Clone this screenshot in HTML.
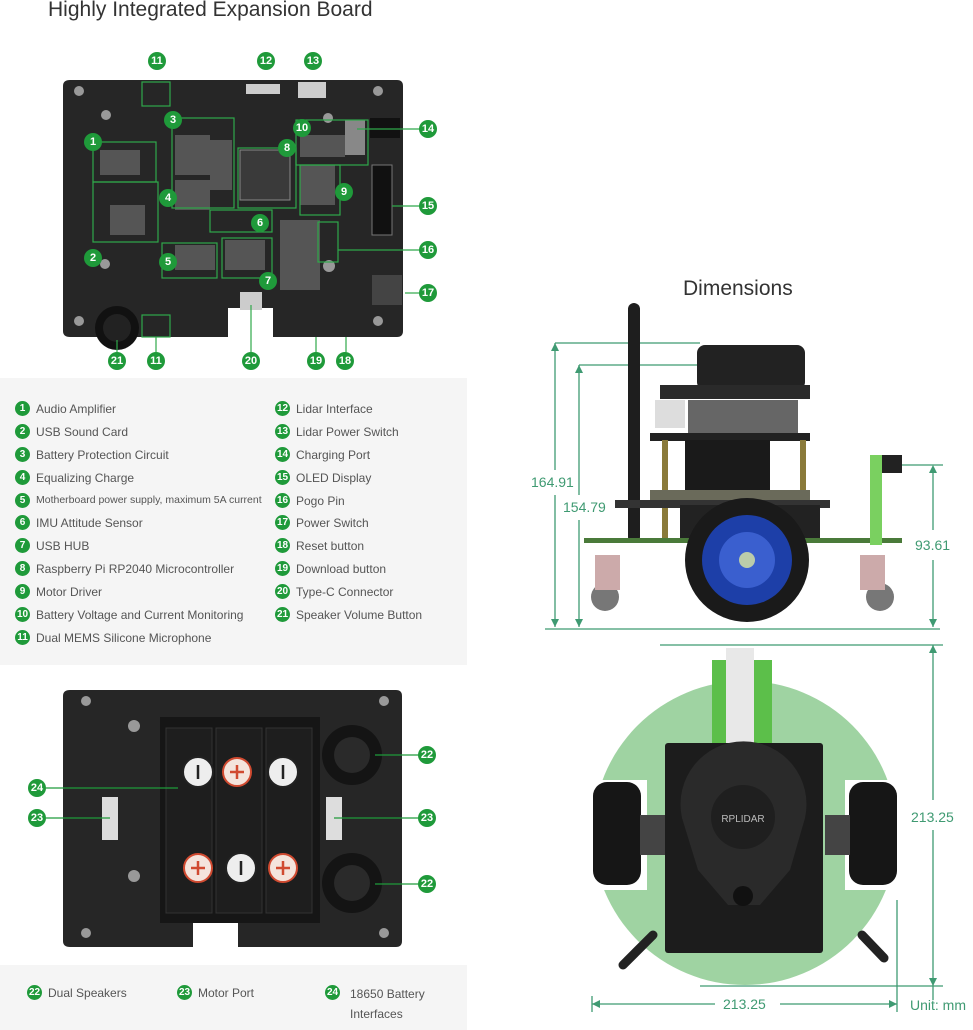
<!DOCTYPE html>
<html><head><meta charset="utf-8"><style>
body{margin:0;background:#fff;width:973px;height:1030px;overflow:hidden;position:relative;font-family:"Liberation Sans",sans-serif;color:#444}
.a{position:absolute}
.lg{position:absolute;font-size:12px;color:#555;white-space:nowrap}
.n{position:absolute;width:15px;height:15px;border-radius:50%;background:#1f9a3a;color:#fff;font-size:10px;font-weight:bold;text-align:center;line-height:15px}
.b{width:18px;height:18px;line-height:18px;font-size:11px}
.dim{position:absolute;color:#3f9a72;font-size:14px}
</style></head><body>
<div class="a" style="left:48px;top:-2px;font-size:21px;color:#333">Highly Integrated Expansion Board</div>
<div class="a" style="left:683px;top:277px;font-size:21px;color:#333">Dimensions</div>

<svg class="a" style="left:0;top:0" width="973" height="1030">
<!-- top board -->
<path d="M70 80 H397 Q403 80 403 86 V331 Q403 337 397 337 H273 V308 H228 V337 H70 Q63 337 63 331 V86 Q63 80 70 80Z" fill="#262626"/>
<g fill="#555">
<rect x="100" y="150" width="40" height="25"/><rect x="110" y="205" width="35" height="30"/><rect x="175" y="135" width="35" height="40"/><rect x="210" y="140" width="22" height="50"/>
<rect x="240" y="150" width="50" height="50" fill="#3a3a3a" stroke="#888"/><rect x="175" y="180" width="35" height="30"/><rect x="300" y="165" width="35" height="40"/>
<rect x="175" y="245" width="40" height="25"/><rect x="225" y="240" width="40" height="30"/><rect x="280" y="220" width="40" height="70"/><rect x="300" y="135" width="45" height="22"/>
<rect x="345" y="120" width="20" height="35" fill="#888"/><rect x="372" y="165" width="20" height="70" fill="#111" stroke="#777"/>
<rect x="370" y="118" width="30" height="20" fill="#111"/><rect x="298" y="82" width="28" height="16" fill="#ccc"/><rect x="246" y="84" width="34" height="10" fill="#ccc"/>
<rect x="240" y="292" width="22" height="18" fill="#ccc"/><rect x="372" y="275" width="30" height="30" fill="#444"/>
</g>
<circle cx="117" cy="328" r="22" fill="#111"/><circle cx="117" cy="328" r="14" fill="#222"/>
<g fill="#999"><circle cx="79" cy="91" r="5"/><circle cx="79" cy="321" r="5"/><circle cx="378" cy="91" r="5"/><circle cx="378" cy="321" r="5"/><circle cx="106" cy="115" r="5"/><circle cx="105" cy="264" r="5"/><circle cx="329" cy="266" r="6"/><circle cx="328" cy="118" r="5"/></g>
<!-- green outline boxes -->
<g fill="none" stroke="#2fa84a" stroke-width="1.2">
<rect x="142" y="82" width="28" height="24"/><rect x="93" y="142" width="63" height="40"/><rect x="93" y="182" width="65" height="60"/><rect x="172" y="118" width="62" height="90"/>
<rect x="238" y="148" width="58" height="60"/><rect x="210" y="210" width="62" height="22"/><rect x="222" y="238" width="50" height="40"/><rect x="296" y="120" width="72" height="45"/><rect x="300" y="165" width="40" height="50"/>
<rect x="162" y="243" width="55" height="35"/><rect x="318" y="222" width="20" height="40"/><rect x="142" y="315" width="28" height="22"/>
<line x1="357" y1="129" x2="420" y2="129"/><line x1="392" y1="206" x2="420" y2="206"/><line x1="338" y1="250" x2="420" y2="250"/><line x1="405" y1="293" x2="420" y2="293"/>
<line x1="316" y1="337" x2="316" y2="352"/><line x1="346" y1="337" x2="346" y2="352"/><line x1="251" y1="305" x2="251" y2="352"/><line x1="117" y1="340" x2="117" y2="352"/><line x1="156" y1="337" x2="156" y2="352"/>
</g>
<!-- side panel -->
<rect x="0" y="378" width="467" height="287" fill="#f5f5f5"/>
<rect x="0" y="965" width="467" height="65" fill="#f5f5f5"/>
<!-- bottom board -->
<path d="M70 690 H396 Q402 690 402 696 V941 Q402 947 396 947 H238 V917 H193 V947 H70 Q63 947 63 941 V696 Q63 690 70 690Z" fill="#262626"/>
<g fill="#999"><circle cx="86" cy="701" r="5"/><circle cx="384" cy="701" r="5"/><circle cx="86" cy="933" r="5"/><circle cx="384" cy="933" r="5"/><circle cx="134" cy="726" r="6"/><circle cx="134" cy="876" r="6"/></g>
<rect x="160" y="717" width="160" height="206" fill="#161616"/>
<g fill="#1e1e1e" stroke="#333"><rect x="166" y="728" width="46" height="185"/><rect x="216" y="728" width="46" height="185"/><rect x="266" y="728" width="46" height="185"/></g>
<g stroke="#222" stroke-width="2" fill="#eee"><circle cx="198" cy="772" r="15"/><circle cx="283" cy="772" r="15"/><circle cx="241" cy="868" r="15"/></g>
<g fill="#f4e4dc" stroke="#d04a30" stroke-width="2"><circle cx="237" cy="772" r="14"/><circle cx="198" cy="868" r="14"/><circle cx="283" cy="868" r="14"/></g>
<g stroke="#222" stroke-width="2.5"><line x1="198" y1="765" x2="198" y2="779"/><line x1="283" y1="765" x2="283" y2="779"/><line x1="241" y1="861" x2="241" y2="875"/></g>
<g stroke="#d04a30" stroke-width="2.5"><path d="M230 772h14M237 765v14M191 868h14M198 861v14M276 868h14M283 861v14"/></g>
<circle cx="352" cy="755" r="30" fill="#141414"/><circle cx="352" cy="755" r="18" fill="#2a2a2a"/><circle cx="352" cy="883" r="30" fill="#141414"/><circle cx="352" cy="883" r="18" fill="#2a2a2a"/>
<rect x="102" y="797" width="16" height="43" fill="#ddd"/><rect x="326" y="797" width="16" height="43" fill="#ddd"/>
<g stroke="#1f9a3a" stroke-width="1.2"><line x1="46" y1="818" x2="110" y2="818"/><line x1="334" y1="818" x2="420" y2="818"/><line x1="46" y1="788" x2="178" y2="788"/><line x1="375" y1="755" x2="420" y2="755"/><line x1="375" y1="884" x2="420" y2="884"/></g>

<!-- side view robot -->
<g stroke="#3f9a72" stroke-width="1.3" fill="#3f9a72">
<line x1="555" y1="343" x2="700" y2="343"/><line x1="579" y1="365" x2="697" y2="365"/><line x1="545" y1="629" x2="940" y2="629"/><line x1="900" y1="465" x2="943" y2="465"/>
<line x1="555" y1="343" x2="555" y2="470"/><line x1="555" y1="495" x2="555" y2="627"/>
<line x1="579" y1="365" x2="579" y2="495"/><line x1="579" y1="520" x2="579" y2="627"/>
<line x1="933" y1="467" x2="933" y2="530"/><line x1="933" y1="560" x2="933" y2="627"/>
<path d="M555 343l-4 8h8z M555 627l-4-8h8z M579 365l-4 8h8z M579 627l-4-8h8z M933 465l-4 8h8z M933 627l-4-8h8z" stroke="none"/>
<line x1="933" y1="645" x2="933" y2="800"/><line x1="933" y1="830" x2="933" y2="1000"/><line x1="660" y1="645" x2="943" y2="645"/><line x1="700" y1="986" x2="943" y2="986"/>
<line x1="592" y1="1004" x2="715" y2="1004"/><line x1="780" y1="1004" x2="897" y2="1004"/><line x1="592" y1="996" x2="592" y2="1012"/><line x1="897" y1="900" x2="897" y2="1012"/>
<path d="M933 645l-4 8h8z M933 986l-4-8h8z M592 1004l8-4v8z M897 1004l-8-4v8z" stroke="none"/>
</g>
<rect x="628" y="303" width="12" height="240" rx="6" fill="#1e1e1e"/>
<rect x="697" y="345" width="108" height="45" rx="8" fill="#222"/>
<rect x="660" y="385" width="150" height="14" fill="#2a2a2a"/>
<rect x="655" y="400" width="30" height="28" fill="#ddd"/>
<rect x="688" y="400" width="110" height="35" fill="#666"/>
<rect x="650" y="433" width="160" height="8" fill="#222"/>
<rect x="685" y="440" width="85" height="55" fill="#1a1a1a"/>
<rect x="662" y="440" width="6" height="100" fill="#8a7a3a"/><rect x="800" y="440" width="6" height="100" fill="#8a7a3a"/>
<rect x="650" y="490" width="160" height="12" fill="#6a6a5a"/>
<rect x="615" y="500" width="215" height="8" fill="#333"/>
<rect x="680" y="505" width="140" height="35" fill="#222"/>
<rect x="584" y="538" width="318" height="5" fill="#4a7a3a"/>
<rect x="870" y="455" width="12" height="90" fill="#7ad060"/><rect x="882" y="455" width="20" height="18" fill="#222"/>
<circle cx="605" cy="597" r="14" fill="#777"/><circle cx="880" cy="597" r="14" fill="#777"/>
<rect x="595" y="555" width="25" height="35" fill="#caa" /><rect x="860" y="555" width="25" height="35" fill="#caa"/>
<circle cx="747" cy="560" r="62" fill="#1a1a1a"/><circle cx="747" cy="560" r="45" fill="#1d3fa8"/><circle cx="747" cy="560" r="28" fill="#3a5fcf"/><circle cx="747" cy="560" r="8" fill="#bca"/>

<!-- top view -->
<circle cx="745" cy="833" r="152" fill="#9fd3a2"/>
<rect x="585" y="780" width="62" height="110" fill="#fff"/><rect x="845" y="780" width="62" height="110" fill="#fff"/>
<rect x="593" y="782" width="48" height="103" rx="14" fill="#161616"/><rect x="849" y="782" width="48" height="103" rx="14" fill="#161616"/>
<rect x="640" y="815" width="25" height="40" fill="#444"/><rect x="825" y="815" width="25" height="40" fill="#444"/>
<rect x="712" y="660" width="60" height="85" fill="#5cbf4a"/>
<rect x="726" y="648" width="28" height="100" fill="#e8e8e8"/>
<rect x="665" y="743" width="158" height="210" rx="3" fill="#1c1c1c"/>
<path d="M682 818 A63 63 0 1 1 805 818 L790 870 L760 905 H728 L698 870Z" fill="#2a2a2a"/>
<circle cx="743" cy="817" r="32" fill="#1f1f1f"/>
<text x="743" y="822" text-anchor="middle" font-family="Liberation Sans" font-size="10" fill="#bbb">RPLIDAR</text>
<circle cx="743" cy="896" r="10" fill="#111"/>
<g stroke="#222" stroke-width="9" stroke-linecap="round"><line x1="623" y1="965" x2="653" y2="935"/><line x1="862" y1="935" x2="884" y2="958"/></g>
</svg>

<div class="dim" style="left:531px;top:474px">164.91</div>
<div class="dim" style="left:563px;top:499px">154.79</div>
<div class="dim" style="left:915px;top:537px">93.61</div>
<div class="dim" style="left:911px;top:809px">213.25</div>
<div class="dim" style="left:723px;top:996px">213.25</div>
<div class="dim" style="left:910px;top:997px">Unit: mm</div>

<!-- numbers top board -->
<div class="n b" style="left:148px;top:52px">11</div><div class="n b" style="left:257px;top:52px">12</div><div class="n b" style="left:304px;top:52px">13</div>
<div class="n b" style="left:419px;top:120px">14</div><div class="n b" style="left:419px;top:197px">15</div><div class="n b" style="left:419px;top:241px">16</div><div class="n b" style="left:419px;top:284px">17</div>
<div class="n b" style="left:336px;top:352px">18</div><div class="n b" style="left:307px;top:352px">19</div><div class="n b" style="left:242px;top:352px">20</div><div class="n b" style="left:108px;top:352px">21</div><div class="n b" style="left:147px;top:352px">11</div>
<div class="n b" style="left:84px;top:133px">1</div><div class="n b" style="left:84px;top:249px">2</div><div class="n b" style="left:164px;top:111px">3</div><div class="n b" style="left:159px;top:189px">4</div><div class="n b" style="left:159px;top:253px">5</div>
<div class="n b" style="left:251px;top:214px">6</div><div class="n b" style="left:259px;top:272px">7</div><div class="n b" style="left:278px;top:139px">8</div><div class="n b" style="left:335px;top:183px">9</div><div class="n b" style="left:293px;top:119px">10</div>
<div class="n b" style="left:418px;top:746px">22</div><div class="n b" style="left:418px;top:875px">22</div><div class="n b" style="left:28px;top:809px">23</div><div class="n b" style="left:418px;top:809px">23</div><div class="n b" style="left:28px;top:779px">24</div>

<!-- legend -->
<div class="n" style="left:15px;top:401px">1</div><div class="lg" style="left:36px;top:402px">Audio Amplifier</div>
<div class="n" style="left:15px;top:424px">2</div><div class="lg" style="left:36px;top:425px">USB Sound Card</div>
<div class="n" style="left:15px;top:447px">3</div><div class="lg" style="left:36px;top:448px">Battery Protection Circuit</div>
<div class="n" style="left:15px;top:470px">4</div><div class="lg" style="left:36px;top:471px">Equalizing Charge</div>
<div class="n" style="left:15px;top:493px">5</div><div class="lg" style="left:36px;top:494px;font-size:10.5px">Motherboard power supply, maximum 5A current</div>
<div class="n" style="left:15px;top:515px">6</div><div class="lg" style="left:36px;top:516px">IMU Attitude Sensor</div>
<div class="n" style="left:15px;top:538px">7</div><div class="lg" style="left:36px;top:539px">USB HUB</div>
<div class="n" style="left:15px;top:561px">8</div><div class="lg" style="left:36px;top:562px">Raspberry Pi RP2040 Microcontroller</div>
<div class="n" style="left:15px;top:584px">9</div><div class="lg" style="left:36px;top:585px">Motor Driver</div>
<div class="n" style="left:15px;top:607px">10</div><div class="lg" style="left:36px;top:608px">Battery Voltage and Current Monitoring</div>
<div class="n" style="left:15px;top:630px">11</div><div class="lg" style="left:36px;top:631px">Dual MEMS Silicone Microphone</div>
<div class="n" style="left:275px;top:401px">12</div><div class="lg" style="left:296px;top:402px">Lidar Interface</div>
<div class="n" style="left:275px;top:424px">13</div><div class="lg" style="left:296px;top:425px">Lidar Power Switch</div>
<div class="n" style="left:275px;top:447px">14</div><div class="lg" style="left:296px;top:448px">Charging Port</div>
<div class="n" style="left:275px;top:470px">15</div><div class="lg" style="left:296px;top:471px">OLED Display</div>
<div class="n" style="left:275px;top:493px">16</div><div class="lg" style="left:296px;top:494px">Pogo Pin</div>
<div class="n" style="left:275px;top:515px">17</div><div class="lg" style="left:296px;top:516px">Power Switch</div>
<div class="n" style="left:275px;top:538px">18</div><div class="lg" style="left:296px;top:539px">Reset button</div>
<div class="n" style="left:275px;top:561px">19</div><div class="lg" style="left:296px;top:562px">Download button</div>
<div class="n" style="left:275px;top:584px">20</div><div class="lg" style="left:296px;top:585px">Type-C Connector</div>
<div class="n" style="left:275px;top:607px">21</div><div class="lg" style="left:296px;top:608px">Speaker Volume Button</div>

<div class="n" style="left:27px;top:985px">22</div><div class="lg" style="left:48px;top:986px">Dual Speakers</div>
<div class="n" style="left:177px;top:985px">23</div><div class="lg" style="left:198px;top:986px">Motor Port</div>
<div class="n" style="left:325px;top:985px">24</div><div class="lg" style="left:350px;top:987px">18650 Battery</div><div class="lg" style="left:350px;top:1007px">Interfaces</div>
</body></html>
